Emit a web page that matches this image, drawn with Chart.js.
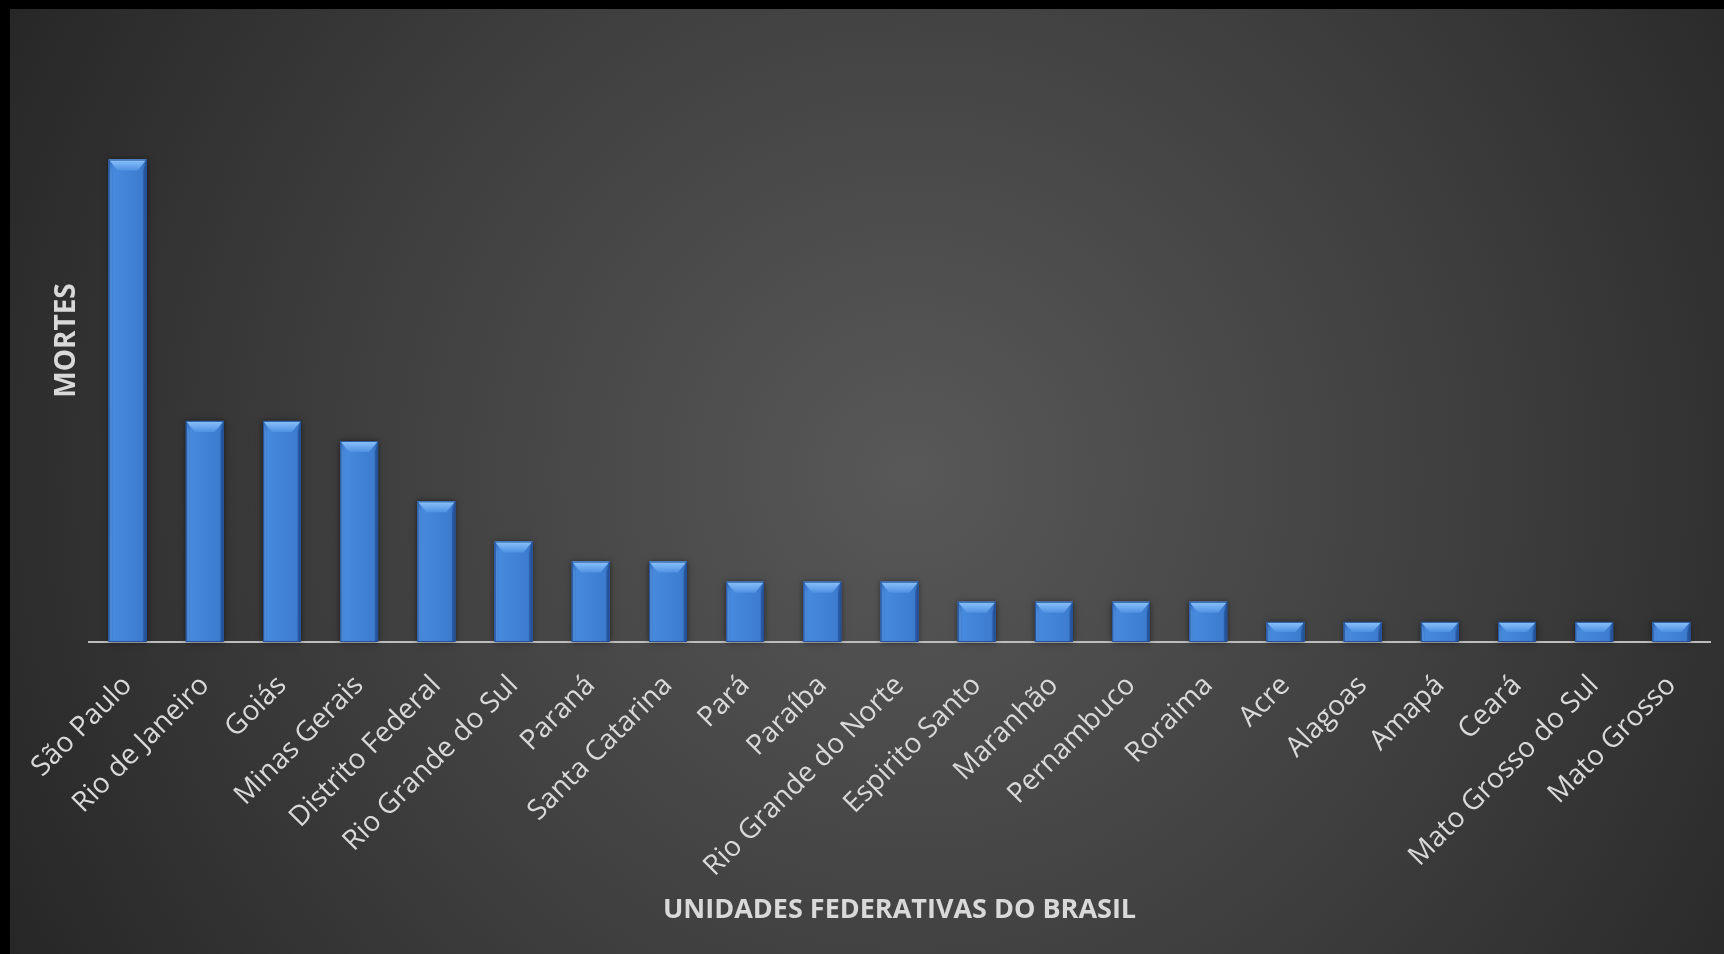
<!DOCTYPE html>
<html>
<head>
<meta charset="utf-8">
<title>Mortes por unidade federativa</title>
<script src="https://cdn.jsdelivr.net/npm/chart.js@4.4.1/dist/chart.umd.min.js"></script>
<style>
  html, body { margin: 0; padding: 0; background: #000; width: 1724px; height: 954px; overflow: hidden; }
  #frame { position: absolute; left: 10px; top: 9px; width: 1714px; height: 945px; }
</style>
</head>
<body>
<div id="frame"><canvas id="chart"></canvas></div>
<script>
// Unidades federativas, ordenadas por número de mortes
const categories = [
  'São Paulo', 'Rio de Janeiro', 'Goiás', 'Minas Gerais', 'Distrito Federal',
  'Rio Grande do Sul', 'Paraná', 'Santa Catarina', 'Pará', 'Paraíba',
  'Rio Grande do Norte', 'Espirito Santo', 'Maranhão', 'Pernambuco', 'Roraima',
  'Acre', 'Alagoas', 'Amapá', 'Ceará', 'Mato Grosso do Sul', 'Mato Grosso'
];
const mortes = [24, 11, 11, 10, 7, 5, 4, 4, 3, 3, 3, 2, 2, 2, 2, 1, 1, 1, 1, 1, 1];
const xAxisTitle = 'UNIDADES FEDERATIVAS DO BRASIL';
const yAxisTitle = 'MORTES';

const TEXT = '#d9d9d9';
const FONT = "'Open Sans', 'DejaVu Sans', sans-serif";

// Dark radial backdrop behind the whole chart
const backdrop = {
  id: 'backdrop',
  beforeDraw(chart) {
    const { ctx, width, height } = chart;
    const cx = width * 0.525, cy = height * 0.49;
    const g = ctx.createRadialGradient(cx, cy, 0, cx, cy, Math.hypot(cx, cy) * 1.02);
    g.addColorStop(0, '#585858');
    g.addColorStop(0.55, '#3e3e3e');
    g.addColorStop(1, '#262626');
    ctx.save();
    ctx.fillStyle = g;
    ctx.fillRect(0, 0, width, height);
    ctx.restore();
  }
};

// Bevelled look for each bar: soft shadow, darker rim, light top facet
const bevel = {
  id: 'bevel',
  beforeDatasetsDraw(chart) {
    const { ctx } = chart;
    const meta = chart.getDatasetMeta(0);
    ctx.save();
    ctx.shadowColor = 'rgba(0,0,0,0.55)';
    ctx.shadowBlur = 6;
    ctx.fillStyle = '#2a5aa0';
    meta.data.forEach(bar => {
      const { x, y, base, width } = bar.getProps(['x', 'y', 'base', 'width'], true);
      ctx.fillRect(x - width / 2, y, width, base - y);
    });
    ctx.restore();
  },
  afterDatasetsDraw(chart) {
    const { ctx } = chart;
    const meta = chart.getDatasetMeta(0);
    ctx.save();
    meta.data.forEach(bar => {
      const { x, y, base, width } = bar.getProps(['x', 'y', 'base', 'width'], true);
      const l = x - width / 2, r = x + width / 2, h = base - y;
      const by = Math.min(11, h / 2), bx = Math.min(9, width / 2);

      // body shading across the width
      const body = ctx.createLinearGradient(l, 0, r, 0);
      body.addColorStop(0, '#2f67b6');
      body.addColorStop(0.12, '#4789dc');
      body.addColorStop(0.5, '#4283d7');
      body.addColorStop(0.88, '#3d7ccf');
      body.addColorStop(1, '#2c60ab');
      ctx.fillStyle = body;
      ctx.fillRect(l, y, width, h);

      // top facet
      const top = ctx.createLinearGradient(0, y, 0, y + by);
      top.addColorStop(0, '#8cc3f7');
      top.addColorStop(0.5, '#6eaaf0');
      top.addColorStop(1, '#4f91e2');
      ctx.fillStyle = top;
      ctx.beginPath();
      ctx.moveTo(l, y);
      ctx.lineTo(r, y);
      ctx.lineTo(r - bx, y + by);
      ctx.lineTo(l + bx, y + by);
      ctx.closePath();
      ctx.fill();

      // left and right facets
      ctx.fillStyle = 'rgba(110,170,240,0.35)';
      ctx.beginPath();
      ctx.moveTo(l, y);
      ctx.lineTo(l + bx * 0.35, y + by);
      ctx.lineTo(l + bx * 0.35, base);
      ctx.lineTo(l, base);
      ctx.closePath();
      ctx.fill();
      ctx.fillStyle = 'rgba(20,50,110,0.35)';
      ctx.beginPath();
      ctx.moveTo(r, y);
      ctx.lineTo(r - bx * 0.35, y + by);
      ctx.lineTo(r - bx * 0.35, base);
      ctx.lineTo(r, base);
      ctx.closePath();
      ctx.fill();

      // rim
      ctx.strokeStyle = 'rgba(35,80,150,0.9)';
      ctx.lineWidth = 1;
      ctx.strokeRect(l + 0.5, y + 0.5, width - 1, h - 1);
    });
    ctx.restore();
  }
};

new Chart(document.getElementById('chart'), {
  type: 'bar',
  data: {
    labels: categories,
    datasets: [{
      label: yAxisTitle,
      data: mortes,
      backgroundColor: '#4283d7',
      borderWidth: 0,
      barPercentage: 0.49,
      categoryPercentage: 1.0
    }]
  },
  options: {
    responsive: true,
    maintainAspectRatio: false,
    animation: false,
    devicePixelRatio: 1,
    layout: { padding: { top: 30, right: 14, bottom: 0, left: 0 } },
    plugins: {
      legend: { display: false },
      tooltip: { enabled: false }
    },
    scales: {
      x: {
        grid: { display: false, drawTicks: false },
        border: { display: true, color: '#bdbdbd', width: 2 },
        ticks: {
          color: TEXT,
          font: { family: FONT, size: 28 },
          minRotation: 45,
          maxRotation: 45,
          autoSkip: false,
          padding: 27
        },
        title: {
          display: true,
          text: xAxisTitle,
          color: TEXT,
          font: { family: FONT, size: 27, weight: 'bold' },
          padding: { top: 0, bottom: 27 }
        },
        afterFit(scale) {
          scale.height = 312;
          // labels may run past the plot's left edge; keep the plot fixed
          scale.paddingLeft = 0;
          scale.paddingRight = 0;
        }
      },
      y: {
        min: 0,
        max: 30,
        grid: { display: false },
        border: { display: false },
        ticks: { display: false },
        title: {
          display: true,
          text: yAxisTitle,
          color: TEXT,
          font: { family: FONT, size: 28, weight: 'bold' },
          padding: { top: 40, bottom: 0 }
        },
        afterFit(scale) { scale.width = 79; }
      }
    }
  },
  plugins: [backdrop, bevel]
});
</script>
</body>
</html>
